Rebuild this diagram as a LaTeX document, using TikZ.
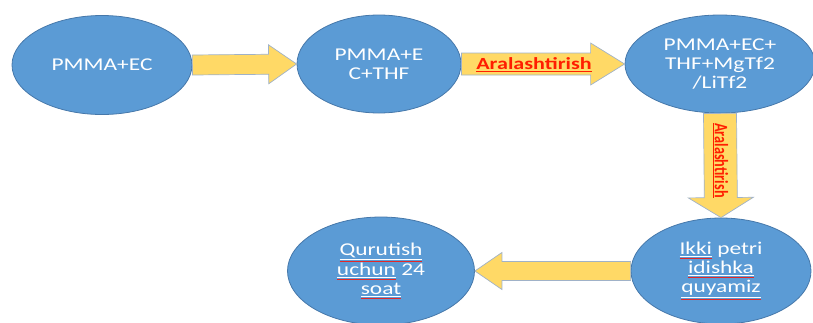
\documentclass[tikz,border=0pt]{standalone}
\usepackage{fontspec}
\setmainfont{Carlito}[FakeStretch=1.3]
\newfontfamily\vlabelfont{Carlito}[FakeStretch=0.75]
\usetikzlibrary{shapes.geometric, calc}
\definecolor{stagefill}{RGB}{91,155,213}
\definecolor{stageborder}{RGB}{70,120,170}
\definecolor{flowfill}{RGB}{255,217,102}
\definecolor{flowborder}{RGB}{160,178,200}
\definecolor{labelred}{RGB}{255,30,0}
\definecolor{spellred}{RGB}{225,40,40}

% underlined word with a red spell-check line below it
\newcommand{\spell}[1]{\leavevmode\setbox0=\hbox{#1}%
  \rlap{\color{spellred}\rule[\dimexpr-\dp0-4.2pt\relax]{\wd0}{0.8pt}}%
  \underline{#1}}

% block arrow: from, to, shaft half width, head half width, head length
\newcommand{\blockarrow}[5]{%
  \path (#1) coordinate (ba-s) (#2) coordinate (ba-e);
  \path ($(ba-e)!#5!(ba-s)$) coordinate (ba-h);
  \draw[flow] ($(ba-s)!#3!90:(ba-e)$) -- ($(ba-h)!#3!90:(ba-e)$)
    -- ($(ba-h)!#4!90:(ba-e)$) -- (ba-e) -- ($(ba-h)!#4!-90:(ba-e)$)
    -- ($(ba-h)!#3!-90:(ba-e)$) -- ($(ba-s)!#3!-90:(ba-e)$) -- cycle;}

\begin{document}
\begin{tikzpicture}[
    x=1pt, y=-1pt,
    stage/.style={
        ellipse,
        draw=stageborder,
        fill=stagefill,
        line width=0.8pt,
        text=white,
        align=center,
        inner sep=0pt,
        font=\fontsize{18}{19}\selectfont
    },
    flow/.style={
        draw=flowborder,
        fill=flowfill,
        line width=0.7pt
    },
    flowlabel/.style={
        text=labelred,
        inner sep=0pt,
        font=\bfseries\fontsize{17}{17}\selectfont
    }
    ]
    \useasboundingbox (0,0) rectangle (813,322);

    % Stages
    \node[stage, minimum width=180pt, minimum height=99pt] (base) at (102,65) {PMMA+EC};
    \node[stage, minimum width=164pt, minimum height=98pt] (solvent) at (379,64) {PMMA+E\\C+THF};
    \node[stage, minimum width=190pt, minimum height=98pt] (salt) at (720,64) {PMMA+EC+\\THF+MgTf2\\/LiTf2};
    \node[stage, minimum width=180pt, minimum height=106pt] (pour) at (721,271) {\spell{Ikki} petri\\\spell{idishka}\\\spell{quyamiz}};
    \node[stage, minimum width=187pt, minimum height=108pt] (dry) at (381,271) {\spell{Qurutish}\\\spell{uchun} 24\\\spell{soat}};

    % Transitions
    \blockarrow{base.east}{solvent.west}{10pt}{19.5pt}{28pt}
    \blockarrow{solvent.east}{salt.west}{11pt}{21pt}{34pt}
    \node[flowlabel] (mixA) at ($(ba-s)!0.5!(ba-h)+(8,1)$) {\underline{Aralashtirish}};
    \blockarrow{salt.south}{pour.north}{16.5pt}{32.5pt}{20pt}
    \node[flowlabel, rotate=-90, font=\vlabelfont\bfseries\fontsize{19}{19}\selectfont] (mixB)
        at ($(ba-s)!0.5!(ba-h)+(0,5)$) {\underline{Aralashtirish}};
    \blockarrow{pour.west}{dry.east}{9.5pt}{18.5pt}{27pt}
\end{tikzpicture}
\end{document}
